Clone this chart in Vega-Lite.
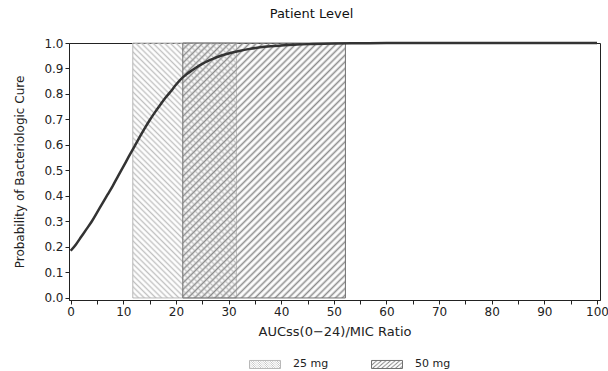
{
  "$schema": "https://vega.github.io/schema/vega-lite/v6.json",
  "width": 531,
  "height": 257,
  "autosize": "none",
  "padding": {"left": 69, "top": 43, "right": 8, "bottom": 71},
  "background": "white",
  "params": [
    {"name": "hz", "value": "rgba(255,255,255,0)"},
    {"name": "ca", "value": "#c0c0c0"},
    {"name": "cb", "value": "#8c8c8c"},
    {"name": "sa", "expr": "[{offset:0,color:ca},{offset:0.008,color:hz},{offset:0.016,color:ca},{offset:0.024,color:hz},{offset:0.032,color:ca},{offset:0.04,color:hz},{offset:0.048,color:ca},{offset:0.056,color:hz},{offset:0.064,color:ca},{offset:0.072,color:hz},{offset:0.08,color:ca},{offset:0.088,color:hz},{offset:0.096,color:ca},{offset:0.104,color:hz},{offset:0.112,color:ca},{offset:0.12,color:hz},{offset:0.128,color:ca},{offset:0.136,color:hz},{offset:0.144,color:ca},{offset:0.152,color:hz},{offset:0.16,color:ca},{offset:0.168,color:hz},{offset:0.176,color:ca},{offset:0.184,color:hz},{offset:0.192,color:ca},{offset:0.2,color:hz},{offset:0.208,color:ca},{offset:0.216,color:hz},{offset:0.224,color:ca},{offset:0.232,color:hz},{offset:0.24,color:ca},{offset:0.248,color:hz},{offset:0.256,color:ca},{offset:0.264,color:hz},{offset:0.272,color:ca},{offset:0.28,color:hz},{offset:0.288,color:ca},{offset:0.296,color:hz},{offset:0.304,color:ca},{offset:0.312,color:hz},{offset:0.32,color:ca},{offset:0.328,color:hz},{offset:0.336,color:ca},{offset:0.344,color:hz},{offset:0.352,color:ca},{offset:0.36,color:hz},{offset:0.368,color:ca},{offset:0.376,color:hz},{offset:0.384,color:ca},{offset:0.392,color:hz},{offset:0.4,color:ca},{offset:0.408,color:hz},{offset:0.416,color:ca},{offset:0.424,color:hz},{offset:0.432,color:ca},{offset:0.44,color:hz},{offset:0.448,color:ca},{offset:0.456,color:hz},{offset:0.464,color:ca},{offset:0.472,color:hz},{offset:0.48,color:ca},{offset:0.488,color:hz},{offset:0.496,color:ca},{offset:0.504,color:hz},{offset:0.512,color:ca},{offset:0.52,color:hz},{offset:0.528,color:ca},{offset:0.536,color:hz},{offset:0.544,color:ca},{offset:0.552,color:hz},{offset:0.56,color:ca},{offset:0.568,color:hz},{offset:0.576,color:ca},{offset:0.584,color:hz},{offset:0.592,color:ca},{offset:0.6,color:hz},{offset:0.608,color:ca},{offset:0.616,color:hz},{offset:0.624,color:ca},{offset:0.632,color:hz},{offset:0.64,color:ca},{offset:0.648,color:hz},{offset:0.656,color:ca},{offset:0.664,color:hz},{offset:0.672,color:ca},{offset:0.68,color:hz},{offset:0.688,color:ca},{offset:0.696,color:hz},{offset:0.704,color:ca},{offset:0.712,color:hz},{offset:0.72,color:ca},{offset:0.728,color:hz},{offset:0.736,color:ca},{offset:0.744,color:hz},{offset:0.752,color:ca},{offset:0.76,color:hz},{offset:0.768,color:ca},{offset:0.776,color:hz},{offset:0.784,color:ca},{offset:0.792,color:hz},{offset:0.8,color:ca},{offset:0.808,color:hz},{offset:0.816,color:ca},{offset:0.824,color:hz},{offset:0.832,color:ca},{offset:0.84,color:hz},{offset:0.848,color:ca},{offset:0.856,color:hz},{offset:0.864,color:ca},{offset:0.872,color:hz},{offset:0.88,color:ca},{offset:0.888,color:hz},{offset:0.896,color:ca},{offset:0.904,color:hz},{offset:0.912,color:ca},{offset:0.92,color:hz},{offset:0.928,color:ca},{offset:0.936,color:hz},{offset:0.944,color:ca},{offset:0.952,color:hz},{offset:0.96,color:ca},{offset:0.968,color:hz},{offset:0.976,color:ca},{offset:0.984,color:hz},{offset:0.992,color:ca},{offset:1,color:hz}]"},
    {"name": "sb", "expr": "[{offset:0,color:cb},{offset:0.008,color:hz},{offset:0.016,color:cb},{offset:0.024,color:hz},{offset:0.032,color:cb},{offset:0.04,color:hz},{offset:0.048,color:cb},{offset:0.056,color:hz},{offset:0.064,color:cb},{offset:0.072,color:hz},{offset:0.08,color:cb},{offset:0.088,color:hz},{offset:0.096,color:cb},{offset:0.104,color:hz},{offset:0.112,color:cb},{offset:0.12,color:hz},{offset:0.128,color:cb},{offset:0.136,color:hz},{offset:0.144,color:cb},{offset:0.152,color:hz},{offset:0.16,color:cb},{offset:0.168,color:hz},{offset:0.176,color:cb},{offset:0.184,color:hz},{offset:0.192,color:cb},{offset:0.2,color:hz},{offset:0.208,color:cb},{offset:0.216,color:hz},{offset:0.224,color:cb},{offset:0.232,color:hz},{offset:0.24,color:cb},{offset:0.248,color:hz},{offset:0.256,color:cb},{offset:0.264,color:hz},{offset:0.272,color:cb},{offset:0.28,color:hz},{offset:0.288,color:cb},{offset:0.296,color:hz},{offset:0.304,color:cb},{offset:0.312,color:hz},{offset:0.32,color:cb},{offset:0.328,color:hz},{offset:0.336,color:cb},{offset:0.344,color:hz},{offset:0.352,color:cb},{offset:0.36,color:hz},{offset:0.368,color:cb},{offset:0.376,color:hz},{offset:0.384,color:cb},{offset:0.392,color:hz},{offset:0.4,color:cb},{offset:0.408,color:hz},{offset:0.416,color:cb},{offset:0.424,color:hz},{offset:0.432,color:cb},{offset:0.44,color:hz},{offset:0.448,color:cb},{offset:0.456,color:hz},{offset:0.464,color:cb},{offset:0.472,color:hz},{offset:0.48,color:cb},{offset:0.488,color:hz},{offset:0.496,color:cb},{offset:0.504,color:hz},{offset:0.512,color:cb},{offset:0.52,color:hz},{offset:0.528,color:cb},{offset:0.536,color:hz},{offset:0.544,color:cb},{offset:0.552,color:hz},{offset:0.56,color:cb},{offset:0.568,color:hz},{offset:0.576,color:cb},{offset:0.584,color:hz},{offset:0.592,color:cb},{offset:0.6,color:hz},{offset:0.608,color:cb},{offset:0.616,color:hz},{offset:0.624,color:cb},{offset:0.632,color:hz},{offset:0.64,color:cb},{offset:0.648,color:hz},{offset:0.656,color:cb},{offset:0.664,color:hz},{offset:0.672,color:cb},{offset:0.68,color:hz},{offset:0.688,color:cb},{offset:0.696,color:hz},{offset:0.704,color:cb},{offset:0.712,color:hz},{offset:0.72,color:cb},{offset:0.728,color:hz},{offset:0.736,color:cb},{offset:0.744,color:hz},{offset:0.752,color:cb},{offset:0.76,color:hz},{offset:0.768,color:cb},{offset:0.776,color:hz},{offset:0.784,color:cb},{offset:0.792,color:hz},{offset:0.8,color:cb},{offset:0.808,color:hz},{offset:0.816,color:cb},{offset:0.824,color:hz},{offset:0.832,color:cb},{offset:0.84,color:hz},{offset:0.848,color:cb},{offset:0.856,color:hz},{offset:0.864,color:cb},{offset:0.872,color:hz},{offset:0.88,color:cb},{offset:0.888,color:hz},{offset:0.896,color:cb},{offset:0.904,color:hz},{offset:0.912,color:cb},{offset:0.92,color:hz},{offset:0.928,color:cb},{offset:0.936,color:hz},{offset:0.944,color:cb},{offset:0.952,color:hz},{offset:0.96,color:cb},{offset:0.968,color:hz},{offset:0.976,color:cb},{offset:0.984,color:hz},{offset:0.992,color:cb},{offset:1,color:hz}]"}
  ],
  "title": {
    "text": "Patient Level",
    "font": "DejaVu Sans",
    "fontSize": 13,
    "fontWeight": "normal",
    "color": "#111",
    "anchor": "middle",
    "offset": 16,
    "dx": -23
  },
  "datasets": {
    "curve": [
      {"x": 0, "p": 0.185}, {"x": 1, "p": 0.21}, {"x": 2, "p": 0.24}, {"x": 3, "p": 0.27},
      {"x": 4, "p": 0.3}, {"x": 5, "p": 0.335}, {"x": 6, "p": 0.37}, {"x": 7, "p": 0.405},
      {"x": 8, "p": 0.44}, {"x": 9, "p": 0.478}, {"x": 10, "p": 0.515}, {"x": 11, "p": 0.553},
      {"x": 12, "p": 0.59}, {"x": 13, "p": 0.627}, {"x": 14, "p": 0.663}, {"x": 15, "p": 0.697},
      {"x": 16, "p": 0.728}, {"x": 17, "p": 0.757}, {"x": 18, "p": 0.785}, {"x": 19, "p": 0.81},
      {"x": 20, "p": 0.836}, {"x": 21, "p": 0.859}, {"x": 22, "p": 0.877}, {"x": 23, "p": 0.892},
      {"x": 24, "p": 0.906}, {"x": 25, "p": 0.918}, {"x": 26, "p": 0.929}, {"x": 27, "p": 0.938},
      {"x": 28, "p": 0.946}, {"x": 29, "p": 0.953}, {"x": 30, "p": 0.959}, {"x": 32, "p": 0.969},
      {"x": 34, "p": 0.977}, {"x": 36, "p": 0.983}, {"x": 38, "p": 0.987}, {"x": 40, "p": 0.99},
      {"x": 43, "p": 0.994}, {"x": 46, "p": 0.996}, {"x": 50, "p": 0.998}, {"x": 55, "p": 0.999},
      {"x": 60, "p": 1.0}, {"x": 100, "p": 1.0}
    ],
    "doses": [
      {"dose": "25 mg", "x0": 11.8, "x1": 31.5, "y0": 0, "y1": 1},
      {"dose": "50 mg", "x0": 21.3, "x1": 52.2, "y0": 0, "y1": 1}
    ]
  },
  "layer": [
    {
      "data": {"name": "doses"},
      "mark": {"type": "rect", "strokeWidth": 1},
      "encoding": {
        "x": {
          "field": "x0", "type": "quantitative",
          "scale": {"domain": [-0.32, 100.57], "nice": false, "zero": false},
          "axis": {
            "values": [0, 5, 10, 15, 20, 25, 30, 35, 40, 45, 50, 55, 60, 65, 70, 75, 80, 85, 90, 95, 100],
            "labelExpr": "datum.value % 10 === 0 ? datum.label : ''",
            "labelFlush": false,
            "labelOverlap": false,
            "labelPadding": 2,
            "titlePadding": 8,
            "titleFontSize": 13
          },
          "title": "AUCss(0−24)/MIC Ratio"
        },
        "x2": {"field": "x1"},
        "y": {
          "field": "y0", "type": "quantitative",
          "scale": {"domain": [-0.008, 1], "nice": false, "zero": false},
          "axis": {
            "values": [0, 0.1, 0.2, 0.3, 0.4, 0.5, 0.6, 0.7, 0.8, 0.9, 1.0],
            "format": ".1f",
            "labelPadding": 2,
            "labelOverlap": false,
            "titlePadding": 17
          },
          "title": "Probability of Bacteriologic Cure"
        },
        "y2": {"field": "y1"},
        "fill": {
          "field": "dose", "type": "nominal",
          "scale": {
            "domain": ["25 mg", "50 mg"],
            "range": [
              {"expr": "{gradient:'linear',x1:0,y1:1,x2:0.487,y2:-0.207,stops:sa}"},
              {"expr": "{gradient:'linear',x1:0,y1:0,x2:0.739,y2:1.166,stops:sb}"}
            ]
          },
          "title": null,
          "legend": {
            "orient": "none", "legendX": 180, "legendY": 305, "direction": "horizontal",
            "symbolType": "M-1,-0.26H1V0.26H-1Z", "symbolSize": 961, "symbolStrokeWidth": 1,
            "labelFontSize": 11, "labelOffset": 12, "columnPadding": 40, "padding": 0
          }
        },
        "stroke": {
          "field": "dose", "type": "nominal",
          "scale": {"domain": ["25 mg", "50 mg"], "range": ["#b8b8b8", "#707070"]},
          "title": null,
          "legend": {
            "orient": "none", "legendX": 180, "legendY": 305, "direction": "horizontal",
            "symbolType": "M-1,-0.26H1V0.26H-1Z", "symbolSize": 961, "symbolStrokeWidth": 1,
            "labelFontSize": 11, "labelOffset": 12, "columnPadding": 40, "padding": 0
          }
        }
      }
    },
    {
      "data": {"name": "curve"},
      "mark": {"type": "line", "color": "#333", "strokeWidth": 2.5, "interpolate": "monotone"},
      "encoding": {
        "x": {
          "field": "x", "type": "quantitative",
          "axis": {
            "values": [0, 5, 10, 15, 20, 25, 30, 35, 40, 45, 50, 55, 60, 65, 70, 75, 80, 85, 90, 95, 100],
            "labelExpr": "datum.value % 10 === 0 ? datum.label : ''",
            "labelFlush": false,
            "labelOverlap": false,
            "labelPadding": 2,
            "titlePadding": 8,
            "titleFontSize": 13
          },
          "title": "AUCss(0−24)/MIC Ratio"
        },
        "y": {
          "field": "p", "type": "quantitative",
          "axis": {
            "values": [0, 0.1, 0.2, 0.3, 0.4, 0.5, 0.6, 0.7, 0.8, 0.9, 1.0],
            "format": ".1f",
            "labelPadding": 2,
            "labelOverlap": false,
            "titlePadding": 17
          },
          "title": "Probability of Bacteriologic Cure"
        }
      }
    }
  ],
  "config": {
    "view": {"stroke": "#222", "strokeWidth": 1},
    "font": "DejaVu Sans",
    "axis": {
      "labelFont": "DejaVu Sans", "titleFont": "DejaVu Sans",
      "labelFontSize": 12, "titleFontSize": 12, "titleFontWeight": "normal",
      "labelColor": "#222", "titleColor": "#222",
      "domainColor": "#222", "tickColor": "#222", "tickSize": 4, "grid": false
    },
    "legend": {"labelFont": "DejaVu Sans", "labelColor": "#222"}
  }
}
